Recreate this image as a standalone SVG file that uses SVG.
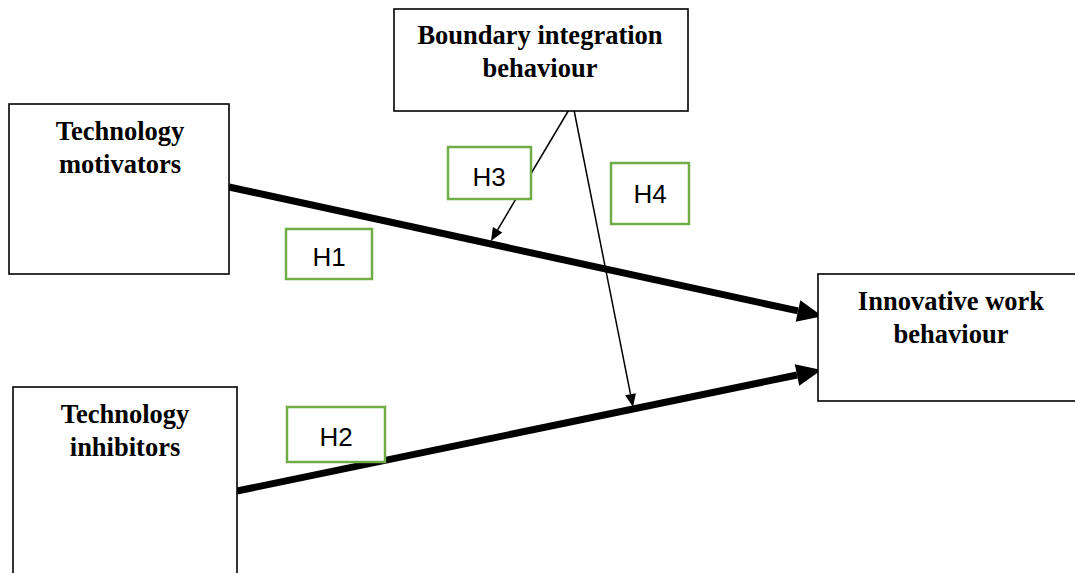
<svg xmlns="http://www.w3.org/2000/svg" width="1075" height="573" viewBox="0 0 1075 573">
<style>
.box{fill:#fff;stroke:#000;stroke-width:1.6}
.hbox{fill:#fff;stroke:#70AD47;stroke-width:2.5}
.t{font-family:"Liberation Serif","Times New Roman",serif;font-weight:bold;font-size:26.5px;text-anchor:middle;fill:#000}
.h{font-family:"Liberation Sans",Arial,sans-serif;font-size:26px;text-anchor:middle;fill:#000}
.thick{stroke:#000;stroke-width:7;fill:none}
.thin{stroke:#000;stroke-width:1.5;fill:none}
</style>
<defs>
<marker id="big" markerUnits="userSpaceOnUse" markerWidth="26" markerHeight="22" refX="0" refY="11" orient="auto" overflow="visible">
<path d="M0,0 L25,11 L0,22 z" fill="#000"/>
</marker>
<marker id="small" markerUnits="userSpaceOnUse" markerWidth="13" markerHeight="11" refX="0" refY="5.5" orient="auto" overflow="visible">
<path d="M0,0 L13,5.5 L0,11 z" fill="#000"/>
</marker>
</defs>
<rect width="1075" height="573" fill="#fff"/>
<g id="connectors">
<line class="thick" x1="229" y1="187" x2="798" y2="310.9" marker-end="url(#big)"/>
<line class="thick" x1="237" y1="491" x2="797" y2="375" marker-end="url(#big)"/>
<line class="thin" x1="570" y1="108" x2="497.6" y2="229.8" marker-end="url(#small)"/>
<line class="thin" x1="573" y1="105" x2="630.5" y2="394.2" marker-end="url(#small)"/>
</g>
<g id="boundary">
<rect class="box" x="394" y="9" width="294" height="102"/>
<text class="t" x="540" y="44">Boundary integration</text>
<text class="t" x="540" y="77">behaviour</text>
</g>
<g id="motivators">
<rect class="box" x="9" y="104" width="220" height="170"/>
<text class="t" x="120" y="140">Technology</text>
<text class="t" x="120" y="173">motivators</text>
</g>
<g id="inhibitors">
<rect class="box" x="13" y="387" width="224" height="200"/>
<text class="t" x="125" y="423">Technology</text>
<text class="t" x="125" y="456">inhibitors</text>
</g>
<g id="innovative">
<rect class="box" x="818" y="274" width="270" height="127"/>
<text class="t" x="951" y="310">Innovative work</text>
<text class="t" x="951" y="343">behaviour</text>
</g>
<g id="H1">
<rect class="hbox" x="286" y="229" width="86" height="50"/>
<text class="h" x="329" y="266">H1</text>
</g>
<g id="H2">
<rect class="hbox" x="287" y="407" width="98" height="55"/>
<text class="h" x="336" y="446">H2</text>
</g>
<g id="H3">
<rect class="hbox" x="448" y="147" width="83" height="52"/>
<text class="h" x="489" y="186">H3</text>
</g>
<g id="H4">
<rect class="hbox" x="611" y="163" width="78" height="61"/>
<text class="h" x="650" y="203">H4</text>
</g>
</svg>
